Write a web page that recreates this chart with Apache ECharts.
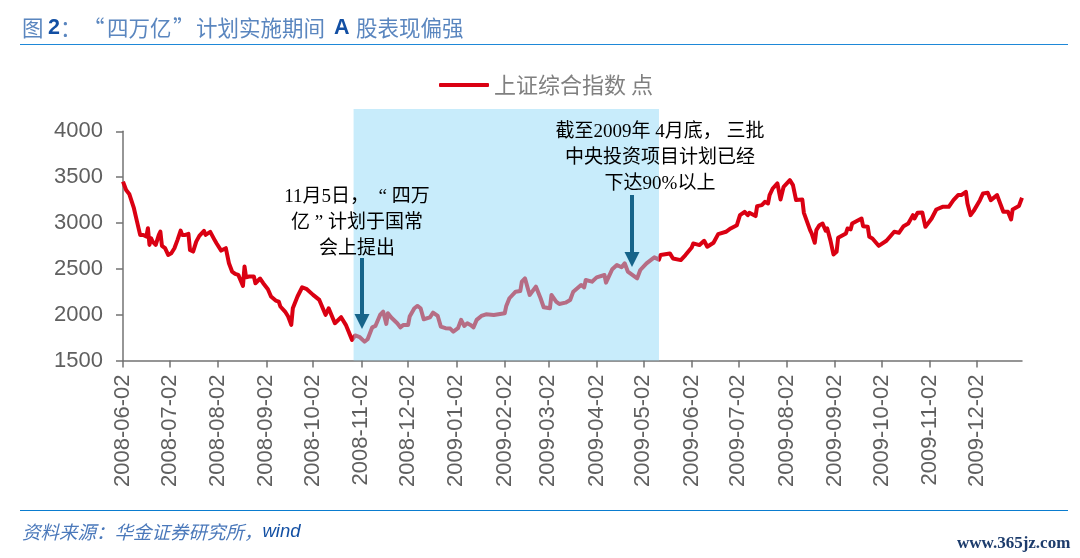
<!DOCTYPE html>
<html>
<head>
<meta charset="utf-8">
<style>
  html, body { margin: 0; padding: 0; background: #fff; }
  #chart { width: 1080px; height: 558px; }
</style>
<script src="https://cdn.jsdelivr.net/npm/echarts@6/dist/echarts.min.js"></script>
</head>
<body>
<div id="chart"></div>
<script>
  var seriesName = '上证综合指数 点';
  var tickDates = [
    '2008-06-02', '2008-07-02', '2008-08-02', '2008-09-02', '2008-10-02', '2008-11-02', '2008-12-02',
    '2009-01-02', '2009-02-02', '2009-03-02', '2009-04-02', '2009-05-02', '2009-06-02', '2009-07-02',
    '2009-08-02', '2009-09-02', '2009-10-02', '2009-11-02', '2009-12-02'
  ];
  var dates = [
    '2008-06-02', '2008-06-04', '2008-06-06', '2008-06-09', '2008-06-11', '2008-06-13', '2008-06-15', '2008-06-17',
    '2008-06-18', '2008-06-19', '2008-06-20', '2008-06-21', '2008-06-23', '2008-06-25', '2008-06-26', '2008-06-27',
    '2008-06-29', '2008-07-01', '2008-07-03', '2008-07-05', '2008-07-07', '2008-07-09', '2008-07-10', '2008-07-12',
    '2008-07-14', '2008-07-15', '2008-07-17', '2008-07-19', '2008-07-21', '2008-07-22', '2008-07-24', '2008-07-25',
    '2008-07-28', '2008-07-31', '2008-08-01', '2008-08-04', '2008-08-07', '2008-08-09', '2008-08-11', '2008-08-13',
    '2008-08-15', '2008-08-18', '2008-08-19', '2008-08-20', '2008-08-22', '2008-08-25', '2008-08-26', '2008-08-29',
    '2008-08-31', '2008-09-03', '2008-09-05', '2008-09-08', '2008-09-10', '2008-09-11', '2008-09-14', '2008-09-16',
    '2008-09-18', '2008-09-19', '2008-09-22', '2008-09-23', '2008-09-25', '2008-09-28', '2008-10-02', '2008-10-06',
    '2008-10-10', '2008-10-12', '2008-10-16', '2008-10-20', '2008-10-23', '2008-10-27', '2008-10-29', '2008-11-01',
    '2008-11-04', '2008-11-06', '2008-11-09', '2008-11-11', '2008-11-14', '2008-11-16', '2008-11-18', '2008-11-19',
    '2008-11-21', '2008-11-25', '2008-11-27', '2008-11-29', '2008-12-02', '2008-12-03', '2008-12-06', '2008-12-08',
    '2008-12-10', '2008-12-12', '2008-12-16', '2008-12-18', '2008-12-21', '2008-12-23', '2008-12-26', '2008-12-29',
    '2008-12-31', '2009-01-03', '2009-01-05', '2009-01-07', '2009-01-09', '2009-01-11', '2009-01-13', '2009-01-15',
    '2009-01-18', '2009-01-21', '2009-01-26', '2009-02-02', '2009-02-03', '2009-02-05', '2009-02-09', '2009-02-12',
    '2009-02-13', '2009-02-15', '2009-02-18', '2009-02-22', '2009-02-25', '2009-02-27', '2009-03-03', '2009-03-04',
    '2009-03-07', '2009-03-09', '2009-03-13', '2009-03-16', '2009-03-18', '2009-03-23', '2009-03-25', '2009-03-26',
    '2009-03-30', '2009-04-02', '2009-04-07', '2009-04-08', '2009-04-12', '2009-04-15', '2009-04-18', '2009-04-20',
    '2009-04-22', '2009-04-28', '2009-04-30', '2009-05-04', '2009-05-09', '2009-05-12', '2009-05-13', '2009-05-19',
    '2009-05-21', '2009-05-26', '2009-05-29', '2009-06-02', '2009-06-03', '2009-06-07', '2009-06-10', '2009-06-12',
    '2009-06-16', '2009-06-19', '2009-06-24', '2009-06-27', '2009-07-01', '2009-07-03', '2009-07-06', '2009-07-08',
    '2009-07-09', '2009-07-13', '2009-07-14', '2009-07-17', '2009-07-19', '2009-07-21', '2009-07-22', '2009-07-24',
    '2009-07-27', '2009-07-28', '2009-07-29', '2009-07-31', '2009-08-04', '2009-08-06', '2009-08-08', '2009-08-12',
    '2009-08-13', '2009-08-14', '2009-08-17', '2009-08-18', '2009-08-20', '2009-08-21', '2009-08-23', '2009-08-25',
    '2009-08-27', '2009-08-28', '2009-08-30', '2009-09-01', '2009-09-03', '2009-09-04', '2009-09-09', '2009-09-10',
    '2009-09-12', '2009-09-13', '2009-09-19', '2009-09-20', '2009-09-23', '2009-09-24', '2009-09-26', '2009-09-30',
    '2009-10-05', '2009-10-10', '2009-10-13', '2009-10-16', '2009-10-19', '2009-10-22', '2009-10-23', '2009-10-25',
    '2009-10-28', '2009-10-30', '2009-11-03', '2009-11-06', '2009-11-10', '2009-11-14', '2009-11-17', '2009-11-20',
    '2009-11-22', '2009-11-25', '2009-11-26', '2009-11-28', '2009-11-30', '2009-12-04', '2009-12-06', '2009-12-09',
    '2009-12-11', '2009-12-15', '2009-12-19', '2009-12-22', '2009-12-24', '2009-12-25', '2009-12-29', '2009-12-31'
  ];
  var closes = [
    3451, 3360, 3317, 3161, 3015, 2870, 2870, 2852,
    2943, 2761, 2834, 2797, 2761, 2870, 2906, 2750,
    2725, 2652, 2670, 2725, 2816, 2917, 2870, 2870,
    2881, 2706, 2688, 2797, 2859, 2852, 2914, 2870,
    2903, 2808, 2779, 2699, 2725, 2561, 2470, 2445,
    2434, 2314, 2525, 2408, 2416, 2416, 2343, 2394,
    2343, 2278, 2198, 2154, 2143, 2089, 2034, 1980,
    1889, 2070, 2198, 2216, 2299, 2278, 2216, 2161,
    1998, 2070, 1907, 1972, 1889, 1725, 1773, 1754,
    1706, 1732, 1862, 1877, 1997, 2033, 1899, 2015,
    1971, 1906, 1862, 1888, 1888, 1979, 2070, 2095,
    2070, 1950, 1971, 2022, 1986, 1870, 1852, 1848,
    1815, 1852, 1943, 1877, 1906, 1888, 1862, 1943,
    1986, 2004, 1997, 2015, 2095, 2179, 2251, 2258,
    2360, 2396, 2215, 2306, 2179, 2081, 2070, 2215,
    2142, 2116, 2131, 2160, 2251, 2324, 2298, 2378,
    2360, 2407, 2433, 2349, 2495, 2542, 2517, 2560,
    2470, 2396, 2487, 2560, 2625, 2600, 2651, 2668,
    2613, 2595, 2650, 2733, 2777, 2759, 2806, 2741,
    2784, 2879, 2904, 2940, 2976, 3085, 3122, 3085,
    3111, 3075, 3184, 3195, 3231, 3213, 3304, 3376,
    3431, 3438, 3257, 3395, 3467, 3413, 3250, 3257,
    3111, 3122, 2922, 2886, 2784, 2922, 2976, 2994,
    2915, 2940, 2813, 2657, 2686, 2838, 2886, 2940,
    2930, 2994, 3049, 2965, 2959, 2849, 2831, 2751,
    2806, 2904, 2893, 2965, 2994, 3085, 3049, 3111,
    3114, 2958, 3049, 3147, 3176, 3176, 3249, 3304,
    3304, 3340, 3213, 3085, 3132, 3249, 3322, 3329,
    3249, 3304, 3122, 3122, 3038, 3147, 3184, 3275
  ];
  // shaded period, top runs above the 4000 tick
  var bandStart = '2008-10-28';
  var bandEnd = '2009-05-12';
  var bandTop = 4243;

  function toTime(d) { return +echarts.time.parse(d); }

  var chart = echarts.init(document.getElementById('chart'));
  var cjk = '"Noto Sans CJK SC", sans-serif';
  var latin = '"Liberation Sans", "Noto Sans CJK SC", sans-serif';
  var note = '"Liberation Serif", "Noto Sans CJK SC", serif';
  var axisColor = '#737373';
  var labelColor = '#5f5f5f';
  var lineColor = '#da0012';
  var titleBlue = '#5a86bf';
  var titleDark = '#124fa3';
  var tickTimes = tickDates.map(toTime);

  function noteText(x, y, text) {
    return {
      type: 'text', x: x, y: y, z: 20,
      style: { text: text, x: 0, y: 0, align: 'center', verticalAlign: 'middle', fill: '#000', fontSize: 19, fontFamily: note }
    };
  }
  function titlePart(x, text, color, font, weight) {
    return {
      type: 'text', x: x, y: 28,
      style: { text: text, verticalAlign: 'middle', fill: color, fontSize: 21.5, fontFamily: font, fontWeight: weight || 'normal' }
    };
  }
  function arrow(x, y0, headTop, tip) {
    return [
      { type: 'line', z: 20, shape: { x1: x, y1: y0, x2: x, y2: headTop + 1 }, style: { stroke: '#16648a', lineWidth: 4 } },
      { type: 'polygon', z: 20, shape: { points: [[x - 7.5, headTop], [x + 7.5, headTop], [x, tip]] }, style: { fill: '#16648a' } }
    ];
  }

  chart.setOption({
    animation: false,
    textStyle: { fontFamily: latin },
    legend: {
      left: 434, top: 69, itemWidth: 50, itemHeight: 4, itemGap: 6,
      data: [{ name: seriesName, icon: 'roundRect' }],
      itemStyle: { color: lineColor },
      lineStyle: { opacity: 0 },
      textStyle: { fontFamily: cjk, fontSize: 22, color: '#808080' }
    },
    grid: { left: 123, right: 58, top: 131.3, height: 229.2, containLabel: false },
    xAxis: {
      type: 'value',
      min: toTime(tickDates[0]),
      max: toTime(dates[dates.length - 1]),
      splitLine: { show: false },
      axisLine: { lineStyle: { color: axisColor, width: 1.5 } },
      axisTick: { customValues: tickTimes, length: 7, lineStyle: { color: axisColor, width: 1.5 } },
      axisLabel: {
        customValues: tickTimes,
        rotate: 90, margin: 14, fontSize: 22, color: labelColor, fontFamily: latin, hideOverlap: false,
        padding: [4, 0, 0, 0],
        formatter: function (v) { return echarts.time.format(v, '{yyyy}-{MM}-{dd}', false); }
      }
    },
    yAxis: {
      type: 'value',
      min: 1500, max: 4000, interval: 500,
      splitLine: { show: false },
      axisLine: { show: true, lineStyle: { color: axisColor, width: 1.5 } },
      axisTick: { show: true, length: 7, lineStyle: { color: axisColor, width: 1.5 } },
      axisLabel: {
        margin: 20, fontSize: 22, color: labelColor, fontFamily: latin,
        formatter: function (v) { return String(v); }
      }
    },
    series: [
      {
        name: seriesName,
        type: 'line',
        showSymbol: false,
        data: dates.map(function (d, i) { return [toTime(d), closes[i]]; }),
        lineStyle: { width: 4, color: lineColor, join: 'round' },
        itemStyle: { color: lineColor },
        z: 2
      },
      {
        // translucent so the line shows through paler inside the period
        type: 'custom',
        z: 5,
        silent: true,
        clip: false,
        data: [[toTime(bandStart), toTime(bandEnd), bandTop]],
        encode: { x: [0, 1], y: 2 },
        renderItem: function (params, api) {
          var a = api.coord([api.value(0), api.value(2)]);
          var b = api.coord([api.value(1), 1500]);
          return {
            type: 'rect',
            shape: { x: a[0], y: a[1], width: b[0] - a[0], height: b[1] - a[1] },
            style: { fill: 'rgba(145,217,247,0.5)' }
          };
        }
      }
    ],
    graphic: [
      { type: 'line', shape: { x1: 20, y1: 44.5, x2: 1068, y2: 44.5 }, style: { stroke: '#1e88d8', lineWidth: 1 } },
      { type: 'line', shape: { x1: 20, y1: 510.5, x2: 1068, y2: 510.5 }, style: { stroke: '#0a7ccf', lineWidth: 1 } },
      titlePart(22, '图', titleBlue, cjk),
      titlePart(48, '2', titleDark, latin, 'bold'),
      titlePart(60, '：', titleBlue, cjk),
      titlePart(83, '“', titleBlue, cjk),
      titlePart(107, '四万亿', titleBlue, cjk),
      titlePart(173, '”', titleBlue, cjk),
      titlePart(196, '计划实施期间', titleBlue, cjk),
      titlePart(334, 'A', titleDark, latin, 'bold'),
      titlePart(356, '股表现偏强', titleBlue, cjk),
      {
        type: 'text', x: 22, y: 523,
        style: {
          text: '{a|资料来源：华金证券研究所，}{b|wind}',
          rich: {
            a: { fill: '#4a78ba', fontSize: 18.5, fontStyle: 'italic', fontFamily: cjk },
            b: { fill: titleDark, fontSize: 18.5, fontStyle: 'italic', fontFamily: latin }
          }
        }
      },
      {
        type: 'text', x: 957, y: 535,
        style: { text: 'www.365jz.com', fill: '#1d3c6c', fontSize: 17, fontWeight: 'bold', fontFamily: '"Liberation Serif", serif' }
      },
      noteText(357, 197, '11月5日，  “ 四万'),
      noteText(357, 223, '亿 ” 计划于国常'),
      noteText(357, 249, '会上提出'),
      noteText(660, 132, '截至2009年 4月底， 三批'),
      noteText(660, 158, '中央投资项目计划已经'),
      noteText(660, 184, '下达90%以上')
    ].concat(arrow(362, 258, 314, 329), arrow(632, 195, 252, 267))
  });
</script>
</body>
</html>
